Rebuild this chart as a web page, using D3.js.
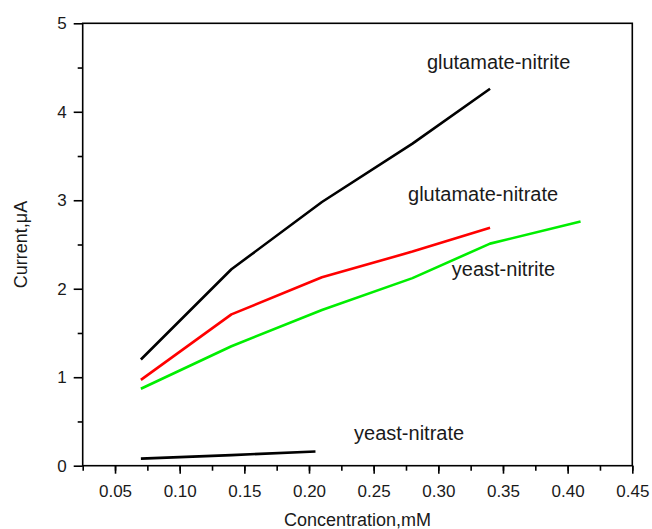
<!DOCTYPE html>
<html><head><meta charset="utf-8">
<script src="https://cdn.jsdelivr.net/npm/d3@7"></script>
<style>body{margin:0;background:#fff}svg text{font-family:"Liberation Sans",Arial,sans-serif;fill:#1a1a1a}</style>
</head><body><svg id="c" width="652" height="529"></svg>
<script>
const xTicks=[0.05,0.10,0.15,0.20,0.25,0.30,0.35,0.40,0.45];
const yTicks=[0,1,2,3,4,5];
const glutNitriteX=[0.07,0.14,0.21,0.28,0.34];
const glutNitriteY=[1.20,2.22,2.98,3.64,4.26];
const glutNitrateX=[0.07,0.14,0.21,0.28,0.34];
const glutNitrateY=[0.97,1.71,2.13,2.42,2.69];
const yeastNitriteX=[0.07,0.14,0.21,0.28,0.34,0.41];
const yeastNitriteY=[0.87,1.35,1.76,2.12,2.51,2.76];
const yeastNitrateX=[0.07,0.14,0.205];
const yeastNitrateY=[0.08,0.12,0.16];
const seriesNames=["glutamate-nitrite","glutamate-nitrate","yeast-nitrite","yeast-nitrate"];
const seriesColors=["#000000","#ff0000","#00ee00","#000000"];

const svg=d3.select("#c");
const L=82.7,R=632.3,T=23.3,B=465.7;
const x=d3.scaleLinear().domain([0.025,0.45]).range([L,R]);
const y=d3.scaleLinear().domain([0,5]).range([B,T]);

// frame
svg.append("rect").attr("x",L).attr("y",T).attr("width",R-L).attr("height",B-T)
  .attr("fill","none").attr("stroke","#000").attr("stroke-width",1.6);

// axes
const xMinor=d3.range(0.025,0.4501,0.025);
const gx=svg.append("g").attr("transform",`translate(0,${B})`);
gx.call(d3.axisBottom(x).tickValues(xMinor).tickSize(5).tickFormat(""));
gx.append("g").call(d3.axisBottom(x).tickValues(xTicks).tickSize(8).tickFormat(d3.format(".2f")).tickPadding(11));
gx.selectAll(".domain").remove();
gx.selectAll("line").attr("stroke","#000").attr("stroke-width",1.6);
gx.selectAll("text").attr("font-size",17).attr("fill","#1a1a1a");

const gy=svg.append("g").attr("transform",`translate(${L},0)`);
gy.call(d3.axisLeft(y).tickValues(d3.range(0.5,5,1)).tickSize(5).tickFormat(""));
gy.append("g").call(d3.axisLeft(y).tickValues(yTicks).tickSize(9).tickFormat(d3.format("d")).tickPadding(7));
gy.selectAll(".domain").remove();
gy.selectAll("line").attr("stroke","#000").attr("stroke-width",1.6);
gy.selectAll("text").attr("font-size",17).attr("fill","#1a1a1a");

// lines
const xs=[glutNitriteX,glutNitrateX,yeastNitriteX,yeastNitrateX];
const ys=[glutNitriteY,glutNitrateY,yeastNitriteY,yeastNitrateY];
const line=d3.line().x(d=>x(d[0])).y(d=>y(d[1]));
xs.forEach((xa,i)=>{
  svg.append("path").datum(xa.map((v,j)=>[v,ys[i][j]])).attr("d",line)
    .attr("fill","none").attr("stroke",seriesColors[i]).attr("stroke-width",2.6)
    .attr("stroke-linejoin","round");
});

// series labels
const labelPos=[[0.3466,4.48],[0.3346,2.99],[0.3504,2.14],[0.2774,0.29]];
seriesNames.forEach((n,i)=>{
  svg.append("text").attr("x",x(labelPos[i][0])).attr("y",y(labelPos[i][1]))
    .attr("text-anchor","middle").attr("font-size",20).text(n);
});

// axis titles
svg.append("text").attr("x",(L+R)/2).attr("y",526).attr("text-anchor","middle")
  .attr("font-size",18).text("Concentration,mM");
svg.append("text").attr("transform",`translate(27,${(T+B)/2}) rotate(-90)`)
  .attr("text-anchor","middle").attr("font-size",18).text("Current,\u03bcA");
</script></body></html>
